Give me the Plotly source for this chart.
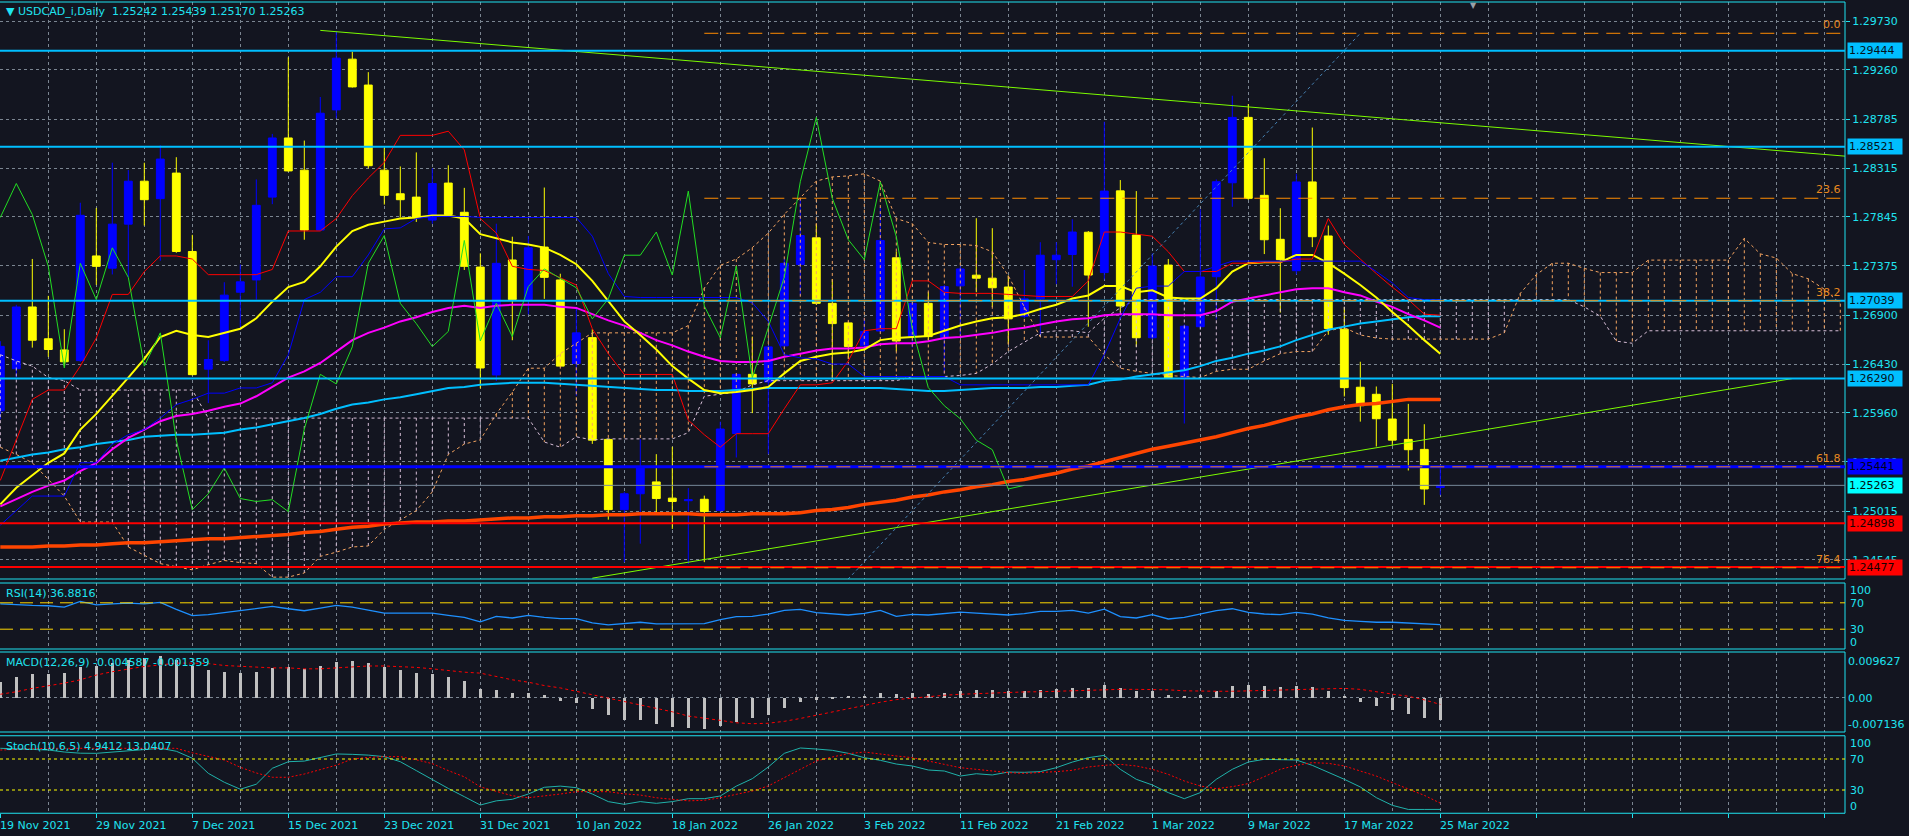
import plotly.graph_objects as go

# USDCAD_i daily bars, 19 Nov 2021 .. 25 Mar 2022 (one value per trading day)
open_ = [1.2598, 1.26385, 1.26979, 1.26673, 1.26566, 1.26463, 1.2747, 1.27352, 1.27776, 1.28189,
         1.28021, 1.28267, 1.27513, 1.26381, 1.26463, 1.27121, 1.27239, 1.28036, 1.28605, 1.28295,
         1.27719, 1.28875, 1.29363, 1.29114, 1.28295, 1.28068, 1.28036, 1.27815, 1.28171, 1.2789,
         1.27363, 1.26325, 1.27431, 1.2705, 1.27555, 1.27239, 1.26435, 1.26684, 1.25705, 1.25029,
         1.25182, 1.25296, 1.2514, 1.25115, 1.25129, 1.25022, 1.25762, 1.26331, 1.26257, 1.26605,
         1.27388, 1.27644, 1.27014, 1.26826, 1.26605, 1.26748, 1.27452, 1.26694, 1.27014, 1.26687,
         1.27182, 1.27285, 1.27256, 1.27171, 1.2689, 1.27057, 1.27434, 1.27484, 1.27698, 1.2731,
         1.28096, 1.27671, 1.26683, 1.27382, 1.26303, 1.26789, 1.2727, 1.28174, 1.28803, 1.28053,
         1.2763, 1.27328, 1.28182, 1.27662, 1.26765, 1.26207, 1.26139, 1.25901, 1.25705, 1.25609,
         1.25242]
high = [1.2665, 1.2700, 1.27441, 1.27086, 1.26765, 1.27982, 1.27932, 1.28367, 1.28296, 1.28367,
        1.28534, 1.2842, 1.27673, 1.26659, 1.27217, 1.27388, 1.28206, 1.28644, 1.29381, 1.2858,
        1.28999, 1.2963, 1.29434, 1.29238, 1.28509, 1.28331, 1.28466, 1.28313, 1.28342, 1.28125,
        1.27495, 1.2778, 1.27655, 1.27662, 1.28128, 1.27299, 1.26979, 1.26765, 1.2571, 1.252,
        1.25705, 1.25563, 1.25634, 1.25236, 1.25164, 1.25876, 1.2634, 1.26694, 1.2661, 1.27441,
        1.28011, 1.2778, 1.27246, 1.2684, 1.26872, 1.2794, 1.27513, 1.2703, 1.27121, 1.2719,
        1.2737, 1.27833, 1.27737, 1.27281, 1.27335, 1.27602, 1.27602, 1.27822, 1.2771, 1.28761,
        1.282, 1.28094, 1.27494, 1.2744, 1.2681, 1.27918, 1.28206, 1.29011, 1.28931, 1.2841,
        1.27929, 1.2826, 1.28705, 1.27762, 1.26979, 1.26452, 1.26214, 1.26239, 1.26047, 1.25851,
        1.25439]
low = [1.2590, 1.26303, 1.26588, 1.26499, 1.2641, 1.2645, 1.27192, 1.27292, 1.27264, 1.27762,
       1.27424, 1.2750, 1.2632, 1.26054, 1.2645, 1.26765, 1.2705, 1.27968, 1.2828, 1.27626,
       1.2771, 1.28793, 1.2909, 1.28313, 1.27964, 1.2784, 1.27797, 1.2778, 1.2786, 1.27335,
       1.26196, 1.26267, 1.26659, 1.26908, 1.27057, 1.2640, 1.26125, 1.25662, 1.24933, 1.24524,
       1.24702, 1.24986, 1.24844, 1.24506, 1.24524, 1.2501, 1.25531, 1.25958, 1.25563, 1.2660,
       1.27086, 1.2700, 1.26267, 1.26481, 1.2659, 1.2674, 1.26552, 1.26588, 1.26659, 1.26338,
       1.26712, 1.27121, 1.26979, 1.26623, 1.26872, 1.26712, 1.27199, 1.27174, 1.26789, 1.27244,
       1.26933, 1.26596, 1.2667, 1.2629, 1.25858, 1.2678, 1.2686, 1.27943, 1.2801, 1.27488,
       1.26925, 1.27292, 1.27555, 1.26712, 1.26118, 1.25876, 1.25637, 1.25645, 1.25406, 1.25075,
       1.2517]
close = [1.2660, 1.26979, 1.26659, 1.2657, 1.26452, 1.27861, 1.2737, 1.27776, 1.28189, 1.28011,
         1.28402, 1.27513, 1.26328, 1.26474, 1.27093, 1.27221, 1.27957, 1.28605, 1.28288, 1.27719,
         1.28843, 1.29373, 1.29096, 1.28338, 1.28053, 1.28011, 1.2784, 1.28167, 1.27868, 1.2737,
         1.26392, 1.27399, 1.2705, 1.27548, 1.27264, 1.2641, 1.2673, 1.25698, 1.25029, 1.25182,
         1.25431, 1.25136, 1.25108, 1.25125, 1.25011, 1.25805, 1.26331, 1.26239, 1.26595, 1.27399,
         1.27666, 1.27014, 1.26819, 1.26598, 1.26744, 1.27619, 1.26652, 1.27014, 1.26694, 1.27175,
         1.27345, 1.27256, 1.27164, 1.26865, 1.27057, 1.27477, 1.27477, 1.277, 1.27286, 1.28094,
         1.26988, 1.26683, 1.27373, 1.26298, 1.26794, 1.27267, 1.28184, 1.28803, 1.28024, 1.27626,
         1.27434, 1.28182, 1.27655, 1.26772, 1.26203, 1.26029, 1.25904, 1.25698, 1.25606, 1.25228,
         1.25263]

# date labels under the chart, one every 6 bars
date_labels = ["19 Nov 2021", "29 Nov 2021", "7 Dec 2021", "15 Dec 2021", "23 Dec 2021",
               "31 Dec 2021", "10 Jan 2022", "18 Jan 2022", "26 Jan 2022", "3 Feb 2022",
               "11 Feb 2022", "21 Feb 2022", "1 Mar 2022", "9 Mar 2022", "17 Mar 2022", "25 Mar 2022"]

# moving averages
ma_yellow = [1.2508, 1.2524, 1.2536, 1.2548, 1.2557, 1.2580, 1.2595, 1.2612, 1.2630, 1.2648,
             1.2669, 1.2675, 1.2671, 1.2669, 1.2673, 1.2677, 1.2687, 1.2703, 1.2717, 1.2722,
             1.2737, 1.2756, 1.2771, 1.2777, 1.2780, 1.2783, 1.2784, 1.2786, 1.2786, 1.2783,
             1.2768, 1.2764, 1.2760, 1.2758, 1.2755, 1.2748, 1.2739, 1.2723, 1.2703, 1.2684,
             1.2671, 1.2657, 1.2641, 1.2629, 1.2618, 1.2615, 1.2616, 1.2618, 1.2621, 1.2634,
             1.2646, 1.2650, 1.2653, 1.2654, 1.2657, 1.2666, 1.2668, 1.2669, 1.2670, 1.2675,
             1.2680, 1.2684, 1.2687, 1.2688, 1.2691, 1.2696, 1.2700, 1.2706, 1.2709, 1.2718,
             1.2718, 1.2712, 1.2714, 1.2707, 1.2706, 1.2706, 1.2716, 1.2732, 1.2740, 1.2741,
             1.2741, 1.2748, 1.2748, 1.2740, 1.2730, 1.2719, 1.2707, 1.2693, 1.2680, 1.2666,
             1.2653]
ma_magenta = [1.2506, 1.2513, 1.2520, 1.2526, 1.2531, 1.2540, 1.2548, 1.2561, 1.2572, 1.2580,
              1.2588, 1.2593, 1.2595, 1.2598, 1.2602, 1.2605, 1.2612, 1.2621, 1.2630, 1.2636,
              1.2644, 1.2655, 1.2666, 1.2673, 1.2678, 1.2684, 1.2688, 1.2693, 1.2697, 1.2699,
              1.2697, 1.2699, 1.2700, 1.2700, 1.2700, 1.2698, 1.2697, 1.2691, 1.2685, 1.2680,
              1.2673, 1.2666, 1.2661, 1.2655, 1.2650, 1.2646, 1.2645, 1.2645, 1.2646, 1.2650,
              1.2653, 1.2656, 1.2658, 1.2658, 1.2659, 1.2662, 1.2663, 1.2663, 1.2665, 1.2668,
              1.2669, 1.2671, 1.2673, 1.2676, 1.2678, 1.2681, 1.2684, 1.2686, 1.2687, 1.2690,
              1.2691, 1.2691, 1.2691, 1.2690, 1.2690, 1.2690, 1.2694, 1.2703, 1.2706, 1.2709,
              1.2712, 1.2715, 1.2716, 1.2716, 1.2712, 1.2709, 1.2703, 1.2698, 1.2691, 1.2685,
              1.2678]
ma_sky = [1.2550, 1.2553, 1.2556, 1.2558, 1.2561, 1.2563, 1.2566, 1.2568, 1.2570, 1.2573,
          1.2574, 1.2575, 1.2575, 1.2576, 1.2577, 1.2580, 1.2582, 1.2585, 1.2588, 1.2591,
          1.2595, 1.2600, 1.2604, 1.2606, 1.2609, 1.2611, 1.2614, 1.2617, 1.2620, 1.2621,
          1.2623, 1.2624, 1.2625, 1.2625, 1.2625, 1.2624, 1.2623, 1.2622, 1.2621, 1.2620,
          1.2619, 1.2618, 1.2618, 1.2617, 1.2617, 1.2617, 1.2618, 1.2619, 1.2620, 1.2620,
          1.2620, 1.2620, 1.2620, 1.2620, 1.2620, 1.2620, 1.2619, 1.2618, 1.2617, 1.2617,
          1.2618, 1.2619, 1.2620, 1.2620, 1.2620, 1.2621, 1.2621, 1.2622, 1.2623, 1.2627,
          1.2628, 1.2631, 1.2633, 1.2635, 1.2637, 1.2641, 1.2646, 1.2649, 1.2653, 1.2656,
          1.2660, 1.2666, 1.2671, 1.2676, 1.2679, 1.2682, 1.2684, 1.2686, 1.2688, 1.2689,
          1.2689]
ma_200 = [1.2467, 1.2467, 1.2467, 1.2468, 1.2468, 1.2469, 1.2469, 1.2470, 1.2471, 1.2471,
          1.2472, 1.2473, 1.2474, 1.2475, 1.2475, 1.2476, 1.2477, 1.2478, 1.2479, 1.2481,
          1.2482, 1.2484, 1.2486, 1.2487, 1.2489, 1.2490, 1.2491, 1.2491, 1.2492, 1.2492,
          1.2493, 1.2494, 1.2495, 1.2495, 1.2496, 1.2496, 1.2497, 1.2497, 1.2498, 1.2498,
          1.2499, 1.2499, 1.2499, 1.2499, 1.2498, 1.2498, 1.2498, 1.2499, 1.2499, 1.2499,
          1.2500, 1.2502, 1.2503, 1.2505, 1.2508, 1.2510, 1.2512, 1.2515, 1.2517, 1.2520,
          1.2522, 1.2525, 1.2527, 1.2530, 1.2532, 1.2535, 1.2538, 1.2542, 1.2545, 1.2549,
          1.2553, 1.2557, 1.2561, 1.2564, 1.2567, 1.2570, 1.2573, 1.2577, 1.2581, 1.2584,
          1.2588, 1.2592, 1.2595, 1.2599, 1.2602, 1.2604, 1.2605, 1.2607, 1.2609, 1.2609,
          1.2609]

# ichimoku
tenkan = [1.2531, 1.2570, 1.2609, 1.2618, 1.2618, 1.2641, 1.2668, 1.2710, 1.2710, 1.2732,
          1.2747, 1.2747, 1.2744, 1.2729, 1.2729, 1.2729, 1.2729, 1.2734, 1.2771, 1.2771,
          1.2771, 1.2783, 1.2805, 1.2822, 1.2837, 1.2863, 1.2863, 1.2863, 1.2867, 1.2849,
          1.2783, 1.2769, 1.2737, 1.2734, 1.2733, 1.2726, 1.2719, 1.2677, 1.2653, 1.2633,
          1.2633, 1.2633, 1.2633, 1.2589, 1.2575, 1.2563, 1.2576, 1.2576, 1.2576, 1.2600,
          1.2623, 1.2623, 1.2625, 1.2646, 1.2675, 1.2677, 1.2677, 1.2723, 1.2723, 1.2712,
          1.2711, 1.2711, 1.2711, 1.2710, 1.2709, 1.2708, 1.2708, 1.2708, 1.2723, 1.2770,
          1.2770, 1.2768, 1.2766, 1.2751, 1.2732, 1.2732, 1.2732, 1.2740, 1.2740, 1.2741,
          1.2741, 1.2744, 1.2744, 1.2783, 1.2758, 1.2744, 1.2730, 1.2717, 1.2705, 1.2691,
          1.2690]
kijun = [1.2488, 1.2502, 1.2516, 1.2516, 1.2516, 1.2548, 1.2548, 1.2566, 1.2575, 1.2580,
         1.2591, 1.2604, 1.2609, 1.2615, 1.2615, 1.2620, 1.2620, 1.2625, 1.2652, 1.2705,
         1.2712, 1.2727, 1.2727, 1.2748, 1.2773, 1.2774, 1.2783, 1.2785, 1.2785, 1.2785,
         1.2784, 1.2784, 1.2784, 1.2784, 1.2784, 1.2784, 1.2784, 1.2766, 1.2730, 1.2708,
         1.2707, 1.2707, 1.2707, 1.2707, 1.2707, 1.2707, 1.2707, 1.2702, 1.2684, 1.2652,
         1.2649, 1.2648, 1.2643, 1.2643, 1.2631, 1.2631, 1.2631, 1.2631, 1.2631, 1.2631,
         1.2623, 1.2623, 1.2623, 1.2623, 1.2623, 1.2623, 1.2623, 1.2623, 1.2623, 1.2652,
         1.2687, 1.2716, 1.2718, 1.2718, 1.2732, 1.2732, 1.2737, 1.2742, 1.2742, 1.2742,
         1.2742, 1.2742, 1.2742, 1.2742, 1.2742, 1.2742, 1.2732, 1.2721, 1.2707, 1.2705,
         1.2705]
senkou_a = [1.2563, 1.2556, 1.2548, 1.2532, 1.2516, 1.2491, 1.2491, 1.2491, 1.2467, 1.2459,
            1.2451, 1.2448, 1.2445, 1.2450, 1.2454, 1.2452, 1.2451, 1.2438, 1.2438, 1.2442,
            1.2458, 1.2462, 1.2467, 1.2468, 1.2484, 1.2493, 1.2502, 1.2520, 1.2556, 1.2566,
            1.2570, 1.2595, 1.2616, 1.2639, 1.2639, 1.2653, 1.2663, 1.2673, 1.2673, 1.2673,
            1.2673, 1.2673, 1.2673, 1.2680, 1.2716, 1.2738, 1.2744, 1.2755, 1.2769, 1.2787,
            1.2803, 1.2819, 1.2823, 1.2824, 1.2826, 1.2819, 1.2783, 1.2778, 1.2760, 1.2758,
            1.2758, 1.2757, 1.2751, 1.2728, 1.2698, 1.2669, 1.2669, 1.2669, 1.2669, 1.2652,
            1.2639, 1.2636, 1.2634, 1.2632, 1.2631, 1.2630, 1.2636, 1.2638, 1.2638, 1.2646,
            1.2653, 1.2655, 1.2655, 1.2675, 1.2678, 1.2671, 1.2668, 1.2667, 1.2667, 1.2667,
            1.2667, 1.2667, 1.2667, 1.2667, 1.2673, 1.2711, 1.2729, 1.2740, 1.2740, 1.2735,
            1.2731, 1.2731, 1.2731, 1.2743, 1.2743, 1.2743, 1.2743, 1.2743, 1.2743, 1.2764,
            1.2749, 1.2745, 1.2730, 1.2725, 1.2715, 1.2701]
senkou_b = [1.2652, 1.2646, 1.2641, 1.2630, 1.2627, 1.2618, 1.2618, 1.2618, 1.2618, 1.2618,
            1.2618, 1.2618, 1.2618, 1.2591, 1.2591, 1.2591, 1.2591, 1.2591, 1.2591, 1.2591,
            1.2591, 1.2591, 1.2591, 1.2591, 1.2591, 1.2591, 1.2591, 1.2591, 1.2591, 1.2591,
            1.2591, 1.2591, 1.2591, 1.2591, 1.2568, 1.2563, 1.2573, 1.2570, 1.2571, 1.2571,
            1.2571, 1.2571, 1.2571, 1.2577, 1.2612, 1.2614, 1.2616, 1.2623, 1.2627, 1.2627,
            1.2627, 1.2627, 1.2627, 1.2627, 1.2627, 1.2627, 1.2627, 1.2631, 1.2631, 1.2631,
            1.2632, 1.2634, 1.2643, 1.2655, 1.2664, 1.2673, 1.2675, 1.2675, 1.2673, 1.2687,
            1.2697, 1.2705, 1.2705, 1.2705, 1.2705, 1.2705, 1.2705, 1.2705, 1.2705, 1.2705,
            1.2705, 1.2705, 1.2705, 1.2705, 1.2705, 1.2705, 1.2705, 1.2705, 1.2705, 1.2705,
            1.2705, 1.2705, 1.2705, 1.2705, 1.2705, 1.2705, 1.2705, 1.2705, 1.2705, 1.2698,
            1.2689, 1.2665, 1.2663, 1.2675, 1.2675, 1.2675, 1.2675, 1.2675, 1.2675, 1.2675,
            1.2675, 1.2675, 1.2675, 1.2675, 1.2675, 1.2675]
chikou_shift = 26

# drawn objects
cyan_levels = [1.29444, 1.28521, 1.27039, 1.26290]
blue_level = 1.25441
red_levels = [1.24898, 1.24477]
fib_names = ["0.0", "23.6", "38.2", "61.8", "76.4"]
fib_prices = [1.29612, 1.28025, 1.27039, 1.25441, 1.24470]
fib_bars = [44, 85]
fib_ends = [1.22887, 1.29612]
trend_down_bars = [20, 115.3]
trend_down = [1.2964, 1.2843]
trend_up_bars = [37, 112]
trend_up = [1.2437, 1.2629]

main_ticks = [1.29730, 1.29260, 1.28785, 1.28315, 1.27845, 1.27375, 1.26900,
              1.26430, 1.25960, 1.25490, 1.25015, 1.24545]

# indicator windows
rsi = [68.5, 67, 66, 65.5, 63.5, 72, 67, 68.5, 69.5, 68.5,
       70.5, 60, 50.5, 52, 55, 58.5, 61, 64.5, 61, 58,
       62, 66, 63.5, 59, 54.5, 54.5, 54.5, 54.5, 51, 48,
       41, 49.5, 47, 51, 48, 46, 46, 39.5, 36.5, 38,
       40.5, 38, 38, 37.5, 38.5, 44.5, 49, 49.5, 53, 58.5,
       60, 55, 53, 51.5, 54, 58.5, 49.5, 52.5, 51.5, 53.5,
       56, 54.5, 53.5, 51.5, 53.5, 57, 57, 58.5, 54.5, 60.5,
       49, 47, 52, 45.5, 48, 53, 58, 61, 55.5, 53,
       52, 55.5, 53, 47, 43.5, 42, 40.5, 40.5, 39, 37.5,
       36.8816]
macd_hist = [0.00342, 0.00447, 0.00509, 0.00509, 0.0053, 0.00656, 0.00677, 0.00726, 0.00796, 0.00831,
             0.0088, 0.00796, 0.00677, 0.00587, 0.00545, 0.0053, 0.00545, 0.00635, 0.00642, 0.00608,
             0.00677, 0.00747, 0.00775, 0.00733, 0.00656, 0.00587, 0.0053, 0.00503, 0.0044, 0.00356,
             0.00189, 0.00168, 0.00112, 0.00098, 0.00063, -0.00056, -0.00098, -0.00224, -0.00356, -0.00461,
             -0.00461, -0.00552, -0.00601, -0.00622, -0.0065, -0.0058, -0.005, -0.0043, -0.0035, -0.0021,
             -0.00084, -0.00035, -0.0001, 0.0002, 0.0002, 0.00105, 0.00084, 0.00105, 0.00084, 0.00105,
             0.00147, 0.00168, 0.00168, 0.00147, 0.00147, 0.00168, 0.00188, 0.0021, 0.0021, 0.0027,
             0.0021, 0.00147, 0.00147, 0.00063, 0.00042, 0.0007, 0.00147, 0.0025, 0.0027, 0.0025,
             0.0023, 0.0025, 0.0023, 0.00147, 0.00042, -0.00084, -0.0017, -0.0025, -0.0034, -0.0042,
             -0.004587]
macd_signal = [0.00077, 0.0013, 0.002, 0.0025, 0.0031, 0.0038, 0.0048, 0.0055, 0.0061, 0.0066,
               0.0069, 0.0073, 0.0073, 0.0072, 0.0068, 0.0066, 0.0064, 0.0063, 0.0063, 0.0061,
               0.0061, 0.0063, 0.0066, 0.0067, 0.0067, 0.0066, 0.0064, 0.0061, 0.0057, 0.0054,
               0.0052, 0.0045, 0.0038, 0.0033, 0.0026, 0.0021, 0.0014, 0.0007, 0.0, -0.0007,
               -0.0014, -0.0021, -0.0029, -0.0038, -0.0042, -0.0047, -0.0052, -0.0054, -0.0053, -0.0049,
               -0.0043, -0.0036, -0.0029, -0.0022, -0.0016, -0.0009, -0.00035, 0.0, 0.00035, 0.00056,
               0.00077, 0.0009, 0.001, 0.0012, 0.00126, 0.0013, 0.0014, 0.0015, 0.0017, 0.0018,
               0.0018, 0.0018, 0.0018, 0.0017, 0.0015, 0.0014, 0.0014, 0.0014, 0.0015, 0.0015,
               0.0016, 0.0017, 0.0019, 0.002, 0.002, 0.0018, 0.00126, 0.0008, 0.00035, -0.0004,
               -0.001359]
stoch_k = [83.8, 83, 82, 81.6, 79, 77.5, 77.3, 79, 80.9, 82.5,
           83.8, 80, 71, 51.5, 40, 31, 37.5, 58, 66.5, 67.3,
           72, 76.5, 76, 75, 73, 66.5, 55, 43, 32, 21.4,
           10.6, 16, 18, 24.8, 33.5, 35, 33, 24.8, 15, 11.5,
           15, 12.8, 15, 18.8, 18.8, 22.3, 35, 44.6, 59.7, 77.3,
           84.2, 82.9, 81.2, 77.3, 71.7, 68.3, 63.5, 61, 55.8, 54.5,
           48, 51, 49.4, 53.2, 52.8, 53.7, 58.8, 66, 71.7, 74.7,
           56.7, 43.8, 36.5, 26.6, 18.8, 26.6, 43.8, 56.7, 66.1, 69.6,
           69.6, 68.7, 61.8, 53.2, 43.8, 33.9, 20.1, 10.2, 4.9, 4.9,
           4.9412]
stoch_d = [81.6, 82.5, 83.2, 83.8, 83.8, 83.8, 83.8, 83.8, 83.8, 83.8,
           83.8, 83.8, 78, 73, 68.7, 59.3, 52, 46.4, 46.4, 50.6,
           56, 62, 70, 72, 73, 73, 69, 64, 55, 47,
           34, 27.8, 22.6, 20, 22, 24.8, 27.8, 28, 27.8, 25,
           23.5, 20, 18, 16, 16.7, 20, 24.4, 28.7, 35.2, 46,
           56.7, 67.4, 72.6, 76.9, 79, 76.9, 73.9, 71.7, 67.8, 63.1,
           58.8, 56.7, 54.5, 52.4, 51.5, 52.4, 53.7, 55.4, 59.7, 61.8,
           63.1, 61, 56.7, 50.2, 41.6, 35.2, 31.7, 34.3, 38.2, 47.2,
           56.7, 61.8, 65.3, 64.4, 61, 54.5, 48, 39.5, 30.9, 23.1,
           13.0407]

# ---------------------------------------------------------------
W, H = 1909, 836
RIGHT = 1845      # where the price scale begins, px
BAR_PX = 16       # horizontal distance between bars, px


def px(x):
    return x / W


def py(y):
    return 1 - y / H


BG = "#131520"
GRID = "#7b8591"
CYAN = "#1fe3f0"
FONT = "DejaVu Sans"

bars = list(range(len(close)))
cloud_bars = list(range(len(senkou_a)))
x_lo = -0.3 / BAR_PX
x_hi = x_lo + RIGHT / BAR_PX

dom_main = [py(579), py(2)]
dom_rsi = [py(649), py(583)]
dom_macd = [py(732), py(652)]
dom_stoch = [py(813.25), py(735.75)]

fig = go.Figure()

# cloud hatching + edges
up_x, up_y, dn_x, dn_y = [], [], [], []
for i, (a, b) in enumerate(zip(senkou_a, senkou_b)):
    if a >= b:
        up_x += [i, i, None]
        up_y += [a, b, None]
    else:
        dn_x += [i, i, None]
        dn_y += [a, b, None]
fig.add_trace(go.Scatter(x=up_x, y=up_y, mode="lines", line=dict(color="#f4a460", width=1, dash="3px,3px")))
fig.add_trace(go.Scatter(x=dn_x, y=dn_y, mode="lines", line=dict(color="#d8bfd8", width=1, dash="3px,3px")))
fig.add_trace(go.Scatter(x=cloud_bars, y=senkou_a, mode="lines", line=dict(color="#f4a460", width=1, dash="3px,3px")))
fig.add_trace(go.Scatter(x=cloud_bars, y=senkou_b, mode="lines", line=dict(color="#d8bfd8", width=1, dash="3px,3px")))

fig.add_trace(go.Candlestick(
    x=bars, open=open_, high=high, low=low, close=close, whiskerwidth=0,
    increasing=dict(line=dict(color="#0000ff", width=1), fillcolor="#0000ff"),
    decreasing=dict(line=dict(color="#ffff00", width=1), fillcolor="#ffff00")))

fig.add_trace(go.Scatter(x=bars, y=ma_200, mode="lines", line=dict(color="#ff4500", width=3.5)))
fig.add_trace(go.Scatter(x=bars, y=ma_sky, mode="lines", line=dict(color="#00bfff", width=2)))
fig.add_trace(go.Scatter(x=bars, y=ma_magenta, mode="lines", line=dict(color="#ff00ff", width=2)))
fig.add_trace(go.Scatter(x=bars, y=ma_yellow, mode="lines", line=dict(color="#ffff00", width=2)))
fig.add_trace(go.Scatter(x=bars, y=tenkan, mode="lines", line=dict(color="#ff0000", width=1)))
fig.add_trace(go.Scatter(x=bars, y=kijun, mode="lines", line=dict(color="#0000ff", width=1)))
fig.add_trace(go.Scatter(x=bars[:-chikou_shift], y=close[chikou_shift:], mode="lines",
                         line=dict(color="#22dd22", width=1)))

# fibo base line + trend lines
fig.add_trace(go.Scatter(x=fib_bars, y=fib_ends, mode="lines", line=dict(color="#4682b4", width=1, dash="dot")))
fig.add_trace(go.Scatter(x=trend_down_bars, y=trend_down, mode="lines", line=dict(color="#7cfc00", width=1)))
fig.add_trace(go.Scatter(x=trend_up_bars, y=trend_up, mode="lines", line=dict(color="#7cfc00", width=1)))

# RSI
fig.add_trace(go.Scatter(x=bars, y=rsi, mode="lines", line=dict(color="#1e90ff", width=1.3),
                         xaxis="x2", yaxis="y2"))
# MACD
fig.add_trace(go.Bar(x=bars, y=macd_hist, width=0.18, marker=dict(color="#c0c0c0", line=dict(width=0)),
                     xaxis="x3", yaxis="y3"))
fig.add_trace(go.Scatter(x=bars, y=macd_signal, mode="lines", line=dict(color="#ff0000", width=1, dash="3px,3px"),
                         xaxis="x3", yaxis="y3"))
# Stochastic
fig.add_trace(go.Scatter(x=bars, y=stoch_k, mode="lines", line=dict(color="#20b2aa", width=1),
                         xaxis="x4", yaxis="y4"))
fig.add_trace(go.Scatter(x=bars, y=stoch_d, mode="lines", line=dict(color="#ff0000", width=1, dash="2px,2px"),
                         xaxis="x4", yaxis="y4"))

# ---- shapes ----
shapes = []
for dom in (dom_main, dom_rsi, dom_macd, dom_stoch):
    shapes.append(dict(type="rect", xref="paper", yref="paper", x0=-0.002, x1=px(RIGHT),
                       y0=dom[0], y1=dom[1], line=dict(color=CYAN, width=1), layer="above"))


def hline(y, color, width, yref="y", dash="solid", x0=0, xref="paper"):
    x1 = px(RIGHT) if xref == "paper" else x_hi
    return dict(type="line", xref=xref, yref=yref, x0=x0, x1=x1, y0=y, y1=y,
                line=dict(color=color, width=width, dash=dash), layer="above")


for p in cyan_levels:
    shapes.append(hline(p, "#00bfff", 2))
shapes.append(hline(blue_level, "#0000ff", 3))
shapes.append(hline(close[-1], "#778899", 1))
for p in red_levels:
    shapes.append(hline(p, "#ff0000", 2))
for p in fib_prices:
    shapes.append(hline(p, "#ff8c00", 1, dash="14px,8px", x0=fib_bars[0], xref="x"))
for lv in (70, 30):
    shapes.append(hline(lv, "#ffd700", 1, yref="y2", dash="13px,7px"))
    shapes.append(hline(lv, "#ffff00", 1, yref="y4", dash="3px,3px"))

# ---- annotations ----
ann = []


def label(text, x, y, color=CYAN, xanchor="left", size=11, **kw):
    ann.append(dict(text=text, x=px(x), y=py(y), xref="paper", yref="paper", xanchor=xanchor,
                    yanchor="middle", showarrow=False, font=dict(family=FONT, size=size, color=color), **kw))


nb = "\u00a0"
label("▼" + nb + "USDCAD_i,Daily" + nb * 2 + nb.join(f"{v:.5f}" for v in (open_[-1], high[-1], low[-1], close[-1])),
      4, 11)
label("▼", 1473, 6, color="#9aa0a8", xanchor="center", size=8)
label(f"RSI(14){nb}{rsi[-1]:.4f}", 4, 593)
label(f"MACD(12,26,9){nb}{macd_hist[-1]:.6f}{nb}{macd_signal[-1]:.6f}", 4, 662)
label(f"Stoch(10,6,5){nb}{stoch_k[-1]:.4f}{nb}{stoch_d[-1]:.4f}", 4, 746)

for t, y in (("100", 590), ("70", 603), ("30", 629), ("0", 642)):
    label(t, 1848, y)
for t, y in (("0.009627", 661), ("0.00", 698), ("-0.007136", 724)):
    label(t, 1846, y)
for t, y in (("100", 743), ("70", 759), ("30", 790), ("0", 806)):
    label(t, 1848, y)

# price boxes on the scale
boxes = [(p, "#00bfff", "#04121a") for p in cyan_levels]
boxes += [(blue_level, "#0000ff", "#00001a"), (close[-1], "#00ffff", "#001010")]
boxes += [(p, "#ff0000", "#1a0000") for p in red_levels]
for p, bg, fg in boxes:
    ann.append(dict(text=f"{p:.5f}", x=px(1847), y=p, xref="paper", yref="y", xanchor="left",
                    yanchor="middle", showarrow=False, bgcolor=bg, borderpad=1, width=52, align="left",
                    font=dict(family=FONT, size=11, color=fg)))

# fibo level names
for name, p in zip(fib_names, fib_prices):
    ann.append(dict(text=name, x=px(1843), y=p, xref="paper", yref="y", xanchor="right",
                    yanchor="bottom", showarrow=False, font=dict(family=FONT, size=11, color="#e8891f")))

# dates
for k, d in enumerate(date_labels):
    ann.append(dict(text=d, x=k * 6, y=py(825), xref="x4", yref="paper", xanchor="left",
                    yanchor="middle", xshift=-2, showarrow=False, font=dict(family=FONT, size=11, color=CYAN)))

xgrid = dict(range=[x_lo, x_hi], domain=[0, px(RIGHT)], showgrid=True, gridcolor=GRID, gridwidth=1,
             griddash="3px,3px", tickmode="linear", tick0=0, dtick=3, showticklabels=False, ticks="",
             zeroline=False, showline=False, automargin=False)
ybase = dict(side="right", zeroline=False, showline=False, automargin=False, showticklabels=False,
             gridcolor=GRID, griddash="3px,3px", gridwidth=1)

fig.update_layout(
    width=W, height=H, margin=dict(l=0, r=0, t=0, b=0), autosize=False, template="none",
    paper_bgcolor=BG, plot_bgcolor=BG, showlegend=False, hovermode=False, bargap=0,
    xaxis=dict(xgrid, anchor="y", rangeslider=dict(visible=False)),
    xaxis2=dict(xgrid, anchor="y2", matches="x"),
    xaxis3=dict(xgrid, anchor="y3", matches="x"),
    xaxis4=dict(xgrid, anchor="y4", matches="x", dtick=6, ticks="outside", ticklen=4, tickcolor=CYAN,
                minor=dict(tick0=0, dtick=3, showgrid=True, gridcolor=GRID, griddash="3px,3px", ticks="")),
    yaxis=dict(ybase, domain=dom_main, anchor="x", range=[1.24362, 1.29913], tickmode="array",
               tickvals=main_ticks, ticktext=[f"{v:.5f}" for v in main_ticks], showticklabels=True,
               showgrid=True, ticks="outside", ticklen=4, tickcolor=CYAN,
               tickfont=dict(family=FONT, size=11, color=CYAN)),
    yaxis2=dict(ybase, domain=dom_rsi, anchor="x2", range=[0, 100], tickmode="array", tickvals=[0], showgrid=True),
    yaxis3=dict(ybase, domain=dom_macd, anchor="x3", range=[-0.007136, 0.009627], tickmode="array",
                tickvals=[0], showgrid=True),
    yaxis4=dict(ybase, domain=dom_stoch, anchor="x4", range=[0, 100], tickmode="array", tickvals=[0], showgrid=True),
    shapes=shapes, annotations=ann,
)

# the page's default body margin would push the chart 8px off; drop it
fig.write_html("out.html", config={"displayModeBar": False},
               post_script="document.body.style.margin='0';document.body.style.overflow='hidden';")
